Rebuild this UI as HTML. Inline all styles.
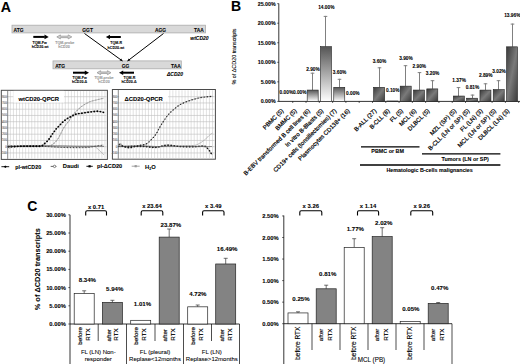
<!DOCTYPE html>
<html><head><meta charset="utf-8"><style>
html,body{margin:0;padding:0;background:#fff;}
svg{display:block;font-family:"Liberation Sans", sans-serif;}
</style></head><body>
<svg width="520" height="364" viewBox="0 0 520 364">
<rect width="520" height="364" fill="#fff"/>
<text x="0.80" y="12.20" font-size="14.2" font-weight="bold" text-anchor="start" fill="#000" stroke="#000" stroke-width="0.08" >A</text>
<rect x="12.00" y="25.20" width="193.40" height="7.70" fill="#d9d9d9" stroke="#ababab" stroke-width="0.8" />
<text x="13.60" y="31.90" font-size="4.9" font-weight="bold" text-anchor="start" fill="#000" stroke="#000" stroke-width="0.08" >ATG</text>
<text x="82.30" y="31.90" font-size="4.9" font-weight="bold" text-anchor="start" fill="#000" stroke="#000" stroke-width="0.08" >GGT</text>
<text x="155.00" y="31.90" font-size="4.9" font-weight="bold" text-anchor="start" fill="#000" stroke="#000" stroke-width="0.08" >AGG</text>
<text x="203.80" y="31.90" font-size="4.9" font-weight="bold" text-anchor="end" fill="#000" stroke="#000" stroke-width="0.08" >TAA</text>
<text x="190.30" y="39.50" font-size="5" font-weight="bold" text-anchor="start" fill="#000" stroke="#000" stroke-width="0.08" font-style="italic">wtCD20</text>
<rect x="53.00" y="60.90" width="128.30" height="7.90" fill="#d9d9d9" stroke="#ababab" stroke-width="0.8" />
<text x="55.20" y="67.60" font-size="4.9" font-weight="bold" text-anchor="start" fill="#000" stroke="#000" stroke-width="0.08" >ATG</text>
<text x="121.80" y="67.60" font-size="4.9" font-weight="bold" text-anchor="start" fill="#000" stroke="#000" stroke-width="0.08" >GG</text>
<text x="180.80" y="67.60" font-size="4.9" font-weight="bold" text-anchor="end" fill="#000" stroke="#000" stroke-width="0.08" >TAA</text>
<text x="167.00" y="75.80" font-size="5" font-weight="bold" text-anchor="start" fill="#000" stroke="#000" stroke-width="0.08" font-style="italic">&#916;CD20</text>
<rect x="33.30" y="35.90" width="11.50" height="2" fill="#000"/>
<polygon points="44.50,34.60 48.70,36.90 44.50,39.20" fill="#000"/>
<polygon points="56.8,36.9 60.4,34.9 60.4,36.15 68.2,36.15 68.2,34.9 71.8,36.9 68.2,38.9 68.2,37.65 60.4,37.65 60.4,38.9" fill="#d0d0d0" stroke="#9a9a9a" stroke-width="0.8" stroke-linejoin="round"/>
<rect x="109.70" y="36.00" width="11.10" height="2" fill="#000"/>
<polygon points="110.00,34.70 105.80,37.00 110.00,39.30" fill="#000"/>
<rect x="73.00" y="71.70" width="12.10" height="2" fill="#000"/>
<polygon points="84.80,70.40 89.00,72.70 84.80,75.00" fill="#000"/>
<polygon points="97,72.7 100.6,70.7 100.6,71.95 107.4,71.95 107.4,70.7 111,72.7 107.4,74.7 107.4,73.45 100.6,73.45 100.6,74.7" fill="#d0d0d0" stroke="#9a9a9a" stroke-width="0.8" stroke-linejoin="round"/>
<rect x="122.90" y="71.70" width="11.10" height="2" fill="#000"/>
<polygon points="123.20,70.40 119.00,72.70 123.20,75.00" fill="#000"/>
<text x="39.60" y="44.00" font-size="3.6" font-weight="bold" text-anchor="middle" fill="#000" stroke="#000" stroke-width="0.08" >TQM-Fw</text>
<text x="40.10" y="48.30" font-size="3.6" font-weight="bold" text-anchor="middle" fill="#000" stroke="#000" stroke-width="0.08" >hCD20-wt</text>
<text x="64.80" y="44.00" font-size="3.6" font-weight="bold" text-anchor="middle" fill="#999" stroke="#999" stroke-width="0.08" >TQM-probe</text>
<text x="64.00" y="48.30" font-size="3.6" font-weight="bold" text-anchor="middle" fill="#999" stroke="#999" stroke-width="0.08" >hCD20</text>
<text x="116.10" y="44.30" font-size="3.6" font-weight="bold" text-anchor="middle" fill="#000" stroke="#000" stroke-width="0.08" >TQM-R</text>
<text x="115.90" y="48.60" font-size="3.6" font-weight="bold" text-anchor="middle" fill="#000" stroke="#000" stroke-width="0.08" >hCD20-wt</text>
<text x="79.60" y="79.00" font-size="3.6" font-weight="bold" text-anchor="middle" fill="#000" stroke="#000" stroke-width="0.08" >TQM-Fw</text>
<text x="79.60" y="83.20" font-size="3.6" font-weight="bold" text-anchor="middle" fill="#000" stroke="#000" stroke-width="0.08" >hCD20-&#916;</text>
<text x="104.00" y="79.00" font-size="3.6" font-weight="bold" text-anchor="middle" fill="#999" stroke="#999" stroke-width="0.08" >TQM-probe</text>
<text x="104.00" y="83.20" font-size="3.6" font-weight="bold" text-anchor="middle" fill="#999" stroke="#999" stroke-width="0.08" >hCD20</text>
<text x="129.40" y="79.00" font-size="3.6" font-weight="bold" text-anchor="middle" fill="#000" stroke="#000" stroke-width="0.08" >TQM-R</text>
<text x="129.00" y="83.20" font-size="3.6" font-weight="bold" text-anchor="middle" fill="#000" stroke="#000" stroke-width="0.08" >hCD20-&#916;</text>
<line x1="84.50" y1="33.50" x2="122.50" y2="61.00" stroke="#000" stroke-width="1.0" />
<polygon points="122.50,61.00 119.63,60.53 121.16,58.42" fill="#000"/>
<line x1="163.50" y1="33.50" x2="127.50" y2="61.00" stroke="#000" stroke-width="1.0" />
<polygon points="127.50,61.00 128.78,58.39 130.36,60.45" fill="#000"/>
<rect x="1.30" y="90.30" width="106.10" height="69.10" fill="#fff" stroke="#4a4a4a" stroke-width="1.0" />
<line x1="10.40" y1="91.10" x2="10.40" y2="158.60" stroke="#cdcdcd" stroke-width="0.6" />
<line x1="13.45" y1="91.10" x2="13.45" y2="158.60" stroke="#cdcdcd" stroke-width="0.6" />
<line x1="16.50" y1="91.10" x2="16.50" y2="158.60" stroke="#cdcdcd" stroke-width="0.6" />
<line x1="19.55" y1="91.10" x2="19.55" y2="158.60" stroke="#cdcdcd" stroke-width="0.6" />
<line x1="22.60" y1="91.10" x2="22.60" y2="158.60" stroke="#cdcdcd" stroke-width="0.6" />
<line x1="25.65" y1="91.10" x2="25.65" y2="158.60" stroke="#cdcdcd" stroke-width="0.6" />
<line x1="28.70" y1="91.10" x2="28.70" y2="158.60" stroke="#cdcdcd" stroke-width="0.6" />
<line x1="31.75" y1="91.10" x2="31.75" y2="158.60" stroke="#cdcdcd" stroke-width="0.6" />
<line x1="34.80" y1="91.10" x2="34.80" y2="158.60" stroke="#cdcdcd" stroke-width="0.6" />
<line x1="37.85" y1="91.10" x2="37.85" y2="158.60" stroke="#cdcdcd" stroke-width="0.6" />
<line x1="40.90" y1="91.10" x2="40.90" y2="158.60" stroke="#cdcdcd" stroke-width="0.6" />
<line x1="43.95" y1="91.10" x2="43.95" y2="158.60" stroke="#cdcdcd" stroke-width="0.6" />
<line x1="47.00" y1="91.10" x2="47.00" y2="158.60" stroke="#cdcdcd" stroke-width="0.6" />
<line x1="50.05" y1="91.10" x2="50.05" y2="158.60" stroke="#cdcdcd" stroke-width="0.6" />
<line x1="53.10" y1="91.10" x2="53.10" y2="158.60" stroke="#cdcdcd" stroke-width="0.6" />
<line x1="56.15" y1="91.10" x2="56.15" y2="158.60" stroke="#cdcdcd" stroke-width="0.6" />
<line x1="59.20" y1="91.10" x2="59.20" y2="158.60" stroke="#cdcdcd" stroke-width="0.6" />
<line x1="62.25" y1="91.10" x2="62.25" y2="158.60" stroke="#cdcdcd" stroke-width="0.6" />
<line x1="65.30" y1="91.10" x2="65.30" y2="158.60" stroke="#cdcdcd" stroke-width="0.6" />
<line x1="68.35" y1="91.10" x2="68.35" y2="158.60" stroke="#cdcdcd" stroke-width="0.6" />
<line x1="71.40" y1="91.10" x2="71.40" y2="158.60" stroke="#cdcdcd" stroke-width="0.6" />
<line x1="74.45" y1="91.10" x2="74.45" y2="158.60" stroke="#cdcdcd" stroke-width="0.6" />
<line x1="77.50" y1="91.10" x2="77.50" y2="158.60" stroke="#cdcdcd" stroke-width="0.6" />
<line x1="80.55" y1="91.10" x2="80.55" y2="158.60" stroke="#cdcdcd" stroke-width="0.6" />
<line x1="83.60" y1="91.10" x2="83.60" y2="158.60" stroke="#cdcdcd" stroke-width="0.6" />
<line x1="86.65" y1="91.10" x2="86.65" y2="158.60" stroke="#cdcdcd" stroke-width="0.6" />
<line x1="89.70" y1="91.10" x2="89.70" y2="158.60" stroke="#cdcdcd" stroke-width="0.6" />
<line x1="92.75" y1="91.10" x2="92.75" y2="158.60" stroke="#cdcdcd" stroke-width="0.6" />
<line x1="95.80" y1="91.10" x2="95.80" y2="158.60" stroke="#cdcdcd" stroke-width="0.6" />
<line x1="98.85" y1="91.10" x2="98.85" y2="158.60" stroke="#cdcdcd" stroke-width="0.6" />
<line x1="101.90" y1="91.10" x2="101.90" y2="158.60" stroke="#cdcdcd" stroke-width="0.6" />
<line x1="104.95" y1="91.10" x2="104.95" y2="158.60" stroke="#cdcdcd" stroke-width="0.6" />
<line x1="6.20" y1="96.70" x2="106.60" y2="96.70" stroke="#bdbdbd" stroke-width="0.6" />
<line x1="6.20" y1="102.95" x2="106.60" y2="102.95" stroke="#bdbdbd" stroke-width="0.6" />
<line x1="6.20" y1="109.20" x2="106.60" y2="109.20" stroke="#bdbdbd" stroke-width="0.6" />
<line x1="6.20" y1="115.45" x2="106.60" y2="115.45" stroke="#bdbdbd" stroke-width="0.6" />
<line x1="6.20" y1="121.70" x2="106.60" y2="121.70" stroke="#bdbdbd" stroke-width="0.6" />
<line x1="6.20" y1="127.95" x2="106.60" y2="127.95" stroke="#bdbdbd" stroke-width="0.6" />
<line x1="6.20" y1="134.20" x2="106.60" y2="134.20" stroke="#bdbdbd" stroke-width="0.6" />
<line x1="6.20" y1="140.45" x2="106.60" y2="140.45" stroke="#bdbdbd" stroke-width="0.6" />
<line x1="6.20" y1="146.70" x2="106.60" y2="146.70" stroke="#bdbdbd" stroke-width="0.6" />
<line x1="6.20" y1="152.95" x2="106.60" y2="152.95" stroke="#bdbdbd" stroke-width="0.6" />
<line x1="7.70" y1="90.80" x2="7.70" y2="158.90" stroke="#555" stroke-width="0.7" />
<text x="6.70" y="97.70" font-size="2.8" font-weight="normal" text-anchor="end" fill="#666" stroke="#666" stroke-width="0.08" >800</text>
<text x="6.70" y="103.95" font-size="2.8" font-weight="normal" text-anchor="end" fill="#666" stroke="#666" stroke-width="0.08" >700</text>
<text x="6.70" y="110.20" font-size="2.8" font-weight="normal" text-anchor="end" fill="#666" stroke="#666" stroke-width="0.08" >600</text>
<text x="6.70" y="116.45" font-size="2.8" font-weight="normal" text-anchor="end" fill="#666" stroke="#666" stroke-width="0.08" >500</text>
<text x="6.70" y="122.70" font-size="2.8" font-weight="normal" text-anchor="end" fill="#666" stroke="#666" stroke-width="0.08" >400</text>
<text x="6.70" y="128.95" font-size="2.8" font-weight="normal" text-anchor="end" fill="#666" stroke="#666" stroke-width="0.08" >300</text>
<text x="6.70" y="135.20" font-size="2.8" font-weight="normal" text-anchor="end" fill="#666" stroke="#666" stroke-width="0.08" >200</text>
<text x="6.70" y="141.45" font-size="2.8" font-weight="normal" text-anchor="end" fill="#666" stroke="#666" stroke-width="0.08" >100</text>
<text x="6.70" y="147.70" font-size="2.8" font-weight="normal" text-anchor="end" fill="#666" stroke="#666" stroke-width="0.08" >0</text>
<text x="6.70" y="153.95" font-size="2.8" font-weight="normal" text-anchor="end" fill="#666" stroke="#666" stroke-width="0.08" >-100</text>
<rect x="13.40" y="90.90" width="50.60" height="11.60" fill="#fff" stroke="none" stroke-width="1" />
<text x="18.50" y="100.60" font-size="5.9" font-weight="bold" text-anchor="start" fill="#000" stroke="#000" stroke-width="0.08" >wtCD20-QPCR</text>
<path d="M8.50,146.40 L10.10,146.36 L12.16,146.30 L14.61,146.24 L17.38,146.16 L20.37,146.09 L23.52,146.04 L26.76,146.00 L30.00,146.00 L33.38,146.03 L37.02,146.10 L40.85,146.19 L44.78,146.29 L48.74,146.40 L52.65,146.49 L56.43,146.56 L60.00,146.60 L63.48,146.60 L66.99,146.58 L70.46,146.54 L73.84,146.49 L77.05,146.43 L80.02,146.38 L82.69,146.33 L85.00,146.30 L86.88,146.26 L88.38,146.19 L89.57,146.12 L90.53,146.05 L91.33,146.02 L92.06,146.03 L92.79,146.12 L93.60,146.30 L94.43,146.58 L95.18,146.93 L95.88,147.36 L96.52,147.84 L97.14,148.35 L97.75,148.90 L98.37,149.45 L99.00,150.00 L99.68,150.60 L100.40,151.28 L101.12,152.00 L101.84,152.73 L102.51,153.43 L103.11,154.07 L103.62,154.61 L104.00,155.00" fill="none" stroke="#a0a0a0" stroke-width="0.7" stroke-linejoin="round"/>
<path d="M8.50,146.50 L10.18,146.48 L12.45,146.44 L15.14,146.41 L18.12,146.36 L21.25,146.32 L24.37,146.27 L27.33,146.23 L30.00,146.20 L32.52,146.18 L35.08,146.16 L37.64,146.15 L40.12,146.14 L42.46,146.12 L44.59,146.10 L46.46,146.06 L48.00,146.00 L49.13,145.94 L49.88,145.90 L50.35,145.86 L50.62,145.81 L50.79,145.72 L50.95,145.58 L51.19,145.38 L51.60,145.10 L52.16,144.73 L52.78,144.28 L53.42,143.76 L54.08,143.20 L54.74,142.61 L55.37,142.00 L55.96,141.39 L56.50,140.80 L56.97,140.23 L57.40,139.65 L57.79,139.06 L58.16,138.47 L58.52,137.86 L58.87,137.23 L59.22,136.58 L59.60,135.90 L59.99,135.18 L60.38,134.41 L60.76,133.61 L61.15,132.80 L61.54,131.99 L61.93,131.19 L62.31,130.42 L62.70,129.70 L63.09,129.02 L63.48,128.36 L63.86,127.72 L64.25,127.10 L64.64,126.50 L65.03,125.92 L65.41,125.35 L65.80,124.80 L66.18,124.28 L66.56,123.81 L66.94,123.37 L67.31,122.94 L67.69,122.50 L68.08,122.04 L68.48,121.55 L68.90,121.00 L69.33,120.39 L69.76,119.74 L70.20,119.05 L70.66,118.34 L71.12,117.62 L71.60,116.89 L72.09,116.18 L72.60,115.50 L73.13,114.83 L73.69,114.15 L74.26,113.48 L74.84,112.81 L75.44,112.15 L76.03,111.51 L76.62,110.89 L77.20,110.30 L77.78,109.74 L78.35,109.19 L78.92,108.66 L79.50,108.16 L80.08,107.67 L80.65,107.19 L81.23,106.74 L81.80,106.30 L82.37,105.88 L82.95,105.48 L83.52,105.10 L84.09,104.73 L84.67,104.38 L85.24,104.04 L85.82,103.72 L86.40,103.40 L86.98,103.09 L87.57,102.80 L88.16,102.51 L88.75,102.24 L89.34,101.99 L89.93,101.74 L90.52,101.51 L91.10,101.30 L91.68,101.11 L92.26,100.93 L92.83,100.78 L93.41,100.64 L93.98,100.50 L94.55,100.37 L95.13,100.24 L95.70,100.10 L96.28,99.96 L96.88,99.81 L97.48,99.67 L98.07,99.52 L98.66,99.39 L99.23,99.25 L99.78,99.12 L100.30,99.00 L100.81,98.88 L101.31,98.76 L101.81,98.64 L102.29,98.53 L102.73,98.43 L103.12,98.34 L103.45,98.26 L103.70,98.20" fill="none" stroke="#8a8a8a" stroke-width="0.6" stroke-linejoin="round"/>
<path d="M8.50,146.50 L10.18,146.48 L12.45,146.44 L15.14,146.41 L18.12,146.36 L21.25,146.32 L24.37,146.27 L27.33,146.23 L30.00,146.20 L32.52,146.18 L35.08,146.16 L37.64,146.15 L40.12,146.14 L42.46,146.12 L44.59,146.10 L46.46,146.06 L48.00,146.00 L49.13,145.94 L49.88,145.90 L50.35,145.86 L50.62,145.81 L50.79,145.72 L50.95,145.58 L51.19,145.38 L51.60,145.10 L52.16,144.73 L52.78,144.28 L53.42,143.76 L54.08,143.20 L54.74,142.61 L55.37,142.00 L55.96,141.39 L56.50,140.80 L56.97,140.23 L57.40,139.65 L57.79,139.06 L58.16,138.47 L58.52,137.86 L58.87,137.23 L59.22,136.58 L59.60,135.90 L59.99,135.18 L60.38,134.41 L60.76,133.61 L61.15,132.80 L61.54,131.99 L61.93,131.19 L62.31,130.42 L62.70,129.70 L63.09,129.02 L63.48,128.36 L63.86,127.72 L64.25,127.10 L64.64,126.50 L65.03,125.92 L65.41,125.35 L65.80,124.80 L66.18,124.28 L66.56,123.81 L66.94,123.37 L67.31,122.94 L67.69,122.50 L68.08,122.04 L68.48,121.55 L68.90,121.00 L69.33,120.39 L69.76,119.74 L70.20,119.05 L70.66,118.34 L71.12,117.62 L71.60,116.89 L72.09,116.18 L72.60,115.50 L73.13,114.83 L73.69,114.15 L74.26,113.48 L74.84,112.81 L75.44,112.15 L76.03,111.51 L76.62,110.89 L77.20,110.30 L77.78,109.74 L78.35,109.19 L78.92,108.66 L79.50,108.16 L80.08,107.67 L80.65,107.19 L81.23,106.74 L81.80,106.30 L82.37,105.88 L82.95,105.48 L83.52,105.10 L84.09,104.73 L84.67,104.38 L85.24,104.04 L85.82,103.72 L86.40,103.40 L86.98,103.09 L87.57,102.80 L88.16,102.51 L88.75,102.24 L89.34,101.99 L89.93,101.74 L90.52,101.51 L91.10,101.30 L91.68,101.11 L92.26,100.93 L92.83,100.78 L93.41,100.64 L93.98,100.50 L94.55,100.37 L95.13,100.24 L95.70,100.10 L96.28,99.96 L96.88,99.81 L97.48,99.67 L98.07,99.52 L98.66,99.39 L99.23,99.25 L99.78,99.12 L100.30,99.00 L100.81,98.88 L101.31,98.76 L101.81,98.64 L102.29,98.53 L102.73,98.43 L103.12,98.34 L103.45,98.26 L103.70,98.20" fill="none" stroke="#8a8a8a" stroke-width="1.2" stroke-linecap="round" stroke-dasharray="0,3.1" opacity="0.8"/>
<path d="M8.50,147.20 L9.33,147.13 L10.37,147.04 L11.60,146.93 L13.00,146.81 L14.56,146.69 L16.26,146.58 L18.08,146.48 L20.00,146.40 L22.09,146.34 L24.40,146.28 L26.88,146.22 L29.47,146.18 L32.13,146.15 L34.80,146.14 L37.44,146.16 L40.00,146.20 L42.53,146.28 L45.12,146.40 L47.72,146.55 L50.31,146.72 L52.87,146.89 L55.35,147.05 L57.74,147.19 L60.00,147.30 L62.13,147.38 L64.15,147.44 L66.08,147.49 L67.94,147.53 L69.74,147.56 L71.51,147.58 L73.25,147.59 L75.00,147.60 L76.75,147.61 L78.51,147.61 L80.24,147.61 L81.94,147.61 L83.58,147.58 L85.15,147.55 L86.63,147.49 L88.00,147.40 L89.24,147.28 L90.36,147.12 L91.39,146.95 L92.34,146.75 L93.26,146.55 L94.15,146.35 L95.06,146.16 L96.00,146.00 L97.01,145.85 L98.09,145.70 L99.18,145.55 L100.25,145.41 L101.26,145.28 L102.16,145.17 L102.92,145.07 L103.50,145.00" fill="none" stroke="#444" stroke-width="0.5" stroke-linejoin="round" opacity="0.7"/>
<path d="M8.50,147.20 L9.33,147.13 L10.37,147.04 L11.60,146.93 L13.00,146.81 L14.56,146.69 L16.26,146.58 L18.08,146.48 L20.00,146.40 L22.09,146.34 L24.40,146.28 L26.88,146.22 L29.47,146.18 L32.13,146.15 L34.80,146.14 L37.44,146.16 L40.00,146.20 L42.53,146.28 L45.12,146.40 L47.72,146.55 L50.31,146.72 L52.87,146.89 L55.35,147.05 L57.74,147.19 L60.00,147.30 L62.13,147.38 L64.15,147.44 L66.08,147.49 L67.94,147.53 L69.74,147.56 L71.51,147.58 L73.25,147.59 L75.00,147.60 L76.75,147.61 L78.51,147.61 L80.24,147.61 L81.94,147.61 L83.58,147.58 L85.15,147.55 L86.63,147.49 L88.00,147.40 L89.24,147.28 L90.36,147.12 L91.39,146.95 L92.34,146.75 L93.26,146.55 L94.15,146.35 L95.06,146.16 L96.00,146.00 L97.01,145.85 L98.09,145.70 L99.18,145.55 L100.25,145.41 L101.26,145.28 L102.16,145.17 L102.92,145.07 L103.50,145.00" fill="none" stroke="#444" stroke-width="1.3" stroke-linecap="round" stroke-dasharray="0,3.1"/>
<path d="M8.50,146.20 L11.01,146.18 L14.43,146.14 L18.51,146.10 L23.00,146.06 L27.65,146.01 L32.20,145.97 L36.40,145.93 L40.00,145.90 L43.05,145.87 L45.81,145.85 L48.34,145.83 L50.72,145.81 L53.01,145.79 L55.27,145.79 L57.58,145.79 L60.00,145.80 L62.47,145.83 L64.91,145.87 L67.32,145.92 L69.75,145.98 L72.21,146.04 L74.72,146.10 L77.31,146.16 L80.00,146.20 L82.97,146.24 L86.28,146.27 L89.76,146.30 L93.25,146.32 L96.58,146.35 L99.59,146.37 L102.12,146.39 L104.00,146.40" fill="none" stroke="#555" stroke-width="0.7" stroke-linejoin="round"/>
<path d="M8.50,146.60 L9.78,146.57 L11.50,146.52 L13.54,146.46 L15.81,146.40 L18.20,146.34 L20.59,146.28 L22.90,146.23 L25.00,146.20 L27.02,146.19 L29.12,146.22 L31.24,146.25 L33.31,146.29 L35.28,146.32 L37.09,146.32 L38.68,146.29 L40.00,146.20 L41.00,146.06 L41.72,145.87 L42.21,145.65 L42.55,145.41 L42.79,145.14 L43.01,144.86 L43.26,144.58 L43.60,144.30 L44.01,144.02 L44.40,143.72 L44.79,143.42 L45.17,143.11 L45.54,142.79 L45.90,142.46 L46.25,142.13 L46.60,141.80 L46.94,141.47 L47.26,141.14 L47.57,140.82 L47.88,140.48 L48.18,140.14 L48.49,139.78 L48.79,139.40 L49.10,139.00 L49.41,138.57 L49.73,138.11 L50.04,137.63 L50.36,137.13 L50.67,136.63 L50.98,136.14 L51.29,135.66 L51.60,135.20 L51.90,134.76 L52.20,134.34 L52.50,133.93 L52.80,133.53 L53.10,133.12 L53.40,132.72 L53.70,132.31 L54.00,131.90 L54.31,131.47 L54.62,131.04 L54.93,130.59 L55.24,130.15 L55.56,129.71 L55.87,129.29 L56.19,128.88 L56.50,128.50 L56.81,128.15 L57.12,127.82 L57.44,127.51 L57.75,127.21 L58.06,126.91 L58.38,126.62 L58.69,126.32 L59.00,126.00 L59.31,125.67 L59.63,125.33 L59.94,124.98 L60.26,124.64 L60.57,124.29 L60.88,123.95 L61.19,123.62 L61.50,123.30 L61.80,122.99 L62.10,122.69 L62.40,122.39 L62.70,122.09 L63.00,121.81 L63.30,121.53 L63.60,121.26 L63.90,121.00 L64.21,120.75 L64.52,120.51 L64.83,120.28 L65.14,120.06 L65.46,119.84 L65.77,119.62 L66.09,119.41 L66.40,119.20 L66.71,118.99 L67.03,118.78 L67.34,118.57 L67.66,118.36 L67.97,118.16 L68.28,117.97 L68.59,117.78 L68.90,117.60 L69.19,117.44 L69.45,117.30 L69.70,117.17 L69.96,117.04 L70.23,116.91 L70.53,116.77 L70.89,116.60 L71.30,116.40 L71.79,116.15 L72.34,115.86 L72.93,115.55 L73.56,115.22 L74.21,114.89 L74.86,114.59 L75.49,114.32 L76.10,114.10 L76.68,113.94 L77.26,113.81 L77.84,113.72 L78.41,113.66 L78.98,113.60 L79.55,113.54 L80.13,113.48 L80.70,113.40 L81.28,113.30 L81.85,113.20 L82.42,113.10 L83.00,112.99 L83.58,112.89 L84.15,112.79 L84.73,112.69 L85.30,112.60 L85.88,112.52 L86.45,112.44 L87.02,112.36 L87.60,112.29 L88.17,112.22 L88.75,112.15 L89.32,112.07 L89.90,112.00 L90.48,111.92 L91.05,111.84 L91.62,111.75 L92.20,111.66 L92.78,111.58 L93.35,111.51 L93.93,111.45 L94.50,111.40 L95.08,111.36 L95.65,111.33 L96.22,111.31 L96.80,111.30 L97.38,111.30 L97.95,111.32 L98.53,111.35 L99.10,111.40 L99.71,111.48 L100.36,111.60 L101.03,111.75 L101.69,111.90 L102.31,112.05 L102.87,112.20 L103.35,112.32 L103.70,112.40" fill="none" stroke="#000" stroke-width="0.5" stroke-linejoin="round" opacity="0.7"/>
<path d="M8.50,146.60 L9.78,146.57 L11.50,146.52 L13.54,146.46 L15.81,146.40 L18.20,146.34 L20.59,146.28 L22.90,146.23 L25.00,146.20 L27.02,146.19 L29.12,146.22 L31.24,146.25 L33.31,146.29 L35.28,146.32 L37.09,146.32 L38.68,146.29 L40.00,146.20 L41.00,146.06 L41.72,145.87 L42.21,145.65 L42.55,145.41 L42.79,145.14 L43.01,144.86 L43.26,144.58 L43.60,144.30 L44.01,144.02 L44.40,143.72 L44.79,143.42 L45.17,143.11 L45.54,142.79 L45.90,142.46 L46.25,142.13 L46.60,141.80 L46.94,141.47 L47.26,141.14 L47.57,140.82 L47.88,140.48 L48.18,140.14 L48.49,139.78 L48.79,139.40 L49.10,139.00 L49.41,138.57 L49.73,138.11 L50.04,137.63 L50.36,137.13 L50.67,136.63 L50.98,136.14 L51.29,135.66 L51.60,135.20 L51.90,134.76 L52.20,134.34 L52.50,133.93 L52.80,133.53 L53.10,133.12 L53.40,132.72 L53.70,132.31 L54.00,131.90 L54.31,131.47 L54.62,131.04 L54.93,130.59 L55.24,130.15 L55.56,129.71 L55.87,129.29 L56.19,128.88 L56.50,128.50 L56.81,128.15 L57.12,127.82 L57.44,127.51 L57.75,127.21 L58.06,126.91 L58.38,126.62 L58.69,126.32 L59.00,126.00 L59.31,125.67 L59.63,125.33 L59.94,124.98 L60.26,124.64 L60.57,124.29 L60.88,123.95 L61.19,123.62 L61.50,123.30 L61.80,122.99 L62.10,122.69 L62.40,122.39 L62.70,122.09 L63.00,121.81 L63.30,121.53 L63.60,121.26 L63.90,121.00 L64.21,120.75 L64.52,120.51 L64.83,120.28 L65.14,120.06 L65.46,119.84 L65.77,119.62 L66.09,119.41 L66.40,119.20 L66.71,118.99 L67.03,118.78 L67.34,118.57 L67.66,118.36 L67.97,118.16 L68.28,117.97 L68.59,117.78 L68.90,117.60 L69.19,117.44 L69.45,117.30 L69.70,117.17 L69.96,117.04 L70.23,116.91 L70.53,116.77 L70.89,116.60 L71.30,116.40 L71.79,116.15 L72.34,115.86 L72.93,115.55 L73.56,115.22 L74.21,114.89 L74.86,114.59 L75.49,114.32 L76.10,114.10 L76.68,113.94 L77.26,113.81 L77.84,113.72 L78.41,113.66 L78.98,113.60 L79.55,113.54 L80.13,113.48 L80.70,113.40 L81.28,113.30 L81.85,113.20 L82.42,113.10 L83.00,112.99 L83.58,112.89 L84.15,112.79 L84.73,112.69 L85.30,112.60 L85.88,112.52 L86.45,112.44 L87.02,112.36 L87.60,112.29 L88.17,112.22 L88.75,112.15 L89.32,112.07 L89.90,112.00 L90.48,111.92 L91.05,111.84 L91.62,111.75 L92.20,111.66 L92.78,111.58 L93.35,111.51 L93.93,111.45 L94.50,111.40 L95.08,111.36 L95.65,111.33 L96.22,111.31 L96.80,111.30 L97.38,111.30 L97.95,111.32 L98.53,111.35 L99.10,111.40 L99.71,111.48 L100.36,111.60 L101.03,111.75 L101.69,111.90 L102.31,112.05 L102.87,112.20 L103.35,112.32 L103.70,112.40" fill="none" stroke="#000" stroke-width="1.9" stroke-linecap="round" stroke-dasharray="0,3.1"/>
<rect x="112.40" y="89.50" width="103.00" height="69.70" fill="#fff" stroke="#4a4a4a" stroke-width="1.0" />
<line x1="121.00" y1="90.30" x2="121.00" y2="158.40" stroke="#cdcdcd" stroke-width="0.6" />
<line x1="124.05" y1="90.30" x2="124.05" y2="158.40" stroke="#cdcdcd" stroke-width="0.6" />
<line x1="127.10" y1="90.30" x2="127.10" y2="158.40" stroke="#cdcdcd" stroke-width="0.6" />
<line x1="130.15" y1="90.30" x2="130.15" y2="158.40" stroke="#cdcdcd" stroke-width="0.6" />
<line x1="133.20" y1="90.30" x2="133.20" y2="158.40" stroke="#cdcdcd" stroke-width="0.6" />
<line x1="136.25" y1="90.30" x2="136.25" y2="158.40" stroke="#cdcdcd" stroke-width="0.6" />
<line x1="139.30" y1="90.30" x2="139.30" y2="158.40" stroke="#cdcdcd" stroke-width="0.6" />
<line x1="142.35" y1="90.30" x2="142.35" y2="158.40" stroke="#cdcdcd" stroke-width="0.6" />
<line x1="145.40" y1="90.30" x2="145.40" y2="158.40" stroke="#cdcdcd" stroke-width="0.6" />
<line x1="148.45" y1="90.30" x2="148.45" y2="158.40" stroke="#cdcdcd" stroke-width="0.6" />
<line x1="151.50" y1="90.30" x2="151.50" y2="158.40" stroke="#cdcdcd" stroke-width="0.6" />
<line x1="154.55" y1="90.30" x2="154.55" y2="158.40" stroke="#cdcdcd" stroke-width="0.6" />
<line x1="157.60" y1="90.30" x2="157.60" y2="158.40" stroke="#cdcdcd" stroke-width="0.6" />
<line x1="160.65" y1="90.30" x2="160.65" y2="158.40" stroke="#cdcdcd" stroke-width="0.6" />
<line x1="163.70" y1="90.30" x2="163.70" y2="158.40" stroke="#cdcdcd" stroke-width="0.6" />
<line x1="166.75" y1="90.30" x2="166.75" y2="158.40" stroke="#cdcdcd" stroke-width="0.6" />
<line x1="169.80" y1="90.30" x2="169.80" y2="158.40" stroke="#cdcdcd" stroke-width="0.6" />
<line x1="172.85" y1="90.30" x2="172.85" y2="158.40" stroke="#cdcdcd" stroke-width="0.6" />
<line x1="175.90" y1="90.30" x2="175.90" y2="158.40" stroke="#cdcdcd" stroke-width="0.6" />
<line x1="178.95" y1="90.30" x2="178.95" y2="158.40" stroke="#cdcdcd" stroke-width="0.6" />
<line x1="182.00" y1="90.30" x2="182.00" y2="158.40" stroke="#cdcdcd" stroke-width="0.6" />
<line x1="185.05" y1="90.30" x2="185.05" y2="158.40" stroke="#cdcdcd" stroke-width="0.6" />
<line x1="188.10" y1="90.30" x2="188.10" y2="158.40" stroke="#cdcdcd" stroke-width="0.6" />
<line x1="191.15" y1="90.30" x2="191.15" y2="158.40" stroke="#cdcdcd" stroke-width="0.6" />
<line x1="194.20" y1="90.30" x2="194.20" y2="158.40" stroke="#cdcdcd" stroke-width="0.6" />
<line x1="197.25" y1="90.30" x2="197.25" y2="158.40" stroke="#cdcdcd" stroke-width="0.6" />
<line x1="200.30" y1="90.30" x2="200.30" y2="158.40" stroke="#cdcdcd" stroke-width="0.6" />
<line x1="203.35" y1="90.30" x2="203.35" y2="158.40" stroke="#cdcdcd" stroke-width="0.6" />
<line x1="206.40" y1="90.30" x2="206.40" y2="158.40" stroke="#cdcdcd" stroke-width="0.6" />
<line x1="209.45" y1="90.30" x2="209.45" y2="158.40" stroke="#cdcdcd" stroke-width="0.6" />
<line x1="212.50" y1="90.30" x2="212.50" y2="158.40" stroke="#cdcdcd" stroke-width="0.6" />
<line x1="116.80" y1="96.70" x2="214.60" y2="96.70" stroke="#bdbdbd" stroke-width="0.6" />
<line x1="116.80" y1="102.95" x2="214.60" y2="102.95" stroke="#bdbdbd" stroke-width="0.6" />
<line x1="116.80" y1="109.20" x2="214.60" y2="109.20" stroke="#bdbdbd" stroke-width="0.6" />
<line x1="116.80" y1="115.45" x2="214.60" y2="115.45" stroke="#bdbdbd" stroke-width="0.6" />
<line x1="116.80" y1="121.70" x2="214.60" y2="121.70" stroke="#bdbdbd" stroke-width="0.6" />
<line x1="116.80" y1="127.95" x2="214.60" y2="127.95" stroke="#bdbdbd" stroke-width="0.6" />
<line x1="116.80" y1="134.20" x2="214.60" y2="134.20" stroke="#bdbdbd" stroke-width="0.6" />
<line x1="116.80" y1="140.45" x2="214.60" y2="140.45" stroke="#bdbdbd" stroke-width="0.6" />
<line x1="116.80" y1="146.70" x2="214.60" y2="146.70" stroke="#bdbdbd" stroke-width="0.6" />
<line x1="116.80" y1="152.95" x2="214.60" y2="152.95" stroke="#bdbdbd" stroke-width="0.6" />
<line x1="118.30" y1="90.00" x2="118.30" y2="158.70" stroke="#555" stroke-width="0.7" />
<text x="117.30" y="97.70" font-size="2.8" font-weight="normal" text-anchor="end" fill="#666" stroke="#666" stroke-width="0.08" >800</text>
<text x="117.30" y="103.95" font-size="2.8" font-weight="normal" text-anchor="end" fill="#666" stroke="#666" stroke-width="0.08" >700</text>
<text x="117.30" y="110.20" font-size="2.8" font-weight="normal" text-anchor="end" fill="#666" stroke="#666" stroke-width="0.08" >600</text>
<text x="117.30" y="116.45" font-size="2.8" font-weight="normal" text-anchor="end" fill="#666" stroke="#666" stroke-width="0.08" >500</text>
<text x="117.30" y="122.70" font-size="2.8" font-weight="normal" text-anchor="end" fill="#666" stroke="#666" stroke-width="0.08" >400</text>
<text x="117.30" y="128.95" font-size="2.8" font-weight="normal" text-anchor="end" fill="#666" stroke="#666" stroke-width="0.08" >300</text>
<text x="117.30" y="135.20" font-size="2.8" font-weight="normal" text-anchor="end" fill="#666" stroke="#666" stroke-width="0.08" >200</text>
<text x="117.30" y="141.45" font-size="2.8" font-weight="normal" text-anchor="end" fill="#666" stroke="#666" stroke-width="0.08" >100</text>
<text x="117.30" y="147.70" font-size="2.8" font-weight="normal" text-anchor="end" fill="#666" stroke="#666" stroke-width="0.08" >0</text>
<text x="117.30" y="153.95" font-size="2.8" font-weight="normal" text-anchor="end" fill="#666" stroke="#666" stroke-width="0.08" >-100</text>
<rect x="119.20" y="90.10" width="48.80" height="11.50" fill="#fff" stroke="none" stroke-width="1" />
<text x="124.60" y="100.60" font-size="5.9" font-weight="bold" text-anchor="start" fill="#000" stroke="#000" stroke-width="0.08" >&#916;CD20-QPCR</text>
<path d="M119.00,146.30 L121.40,146.33 L124.59,146.37 L128.40,146.42 L132.62,146.47 L137.09,146.53 L141.59,146.57 L145.96,146.59 L150.00,146.60 L153.91,146.59 L157.97,146.56 L162.07,146.51 L166.12,146.46 L170.04,146.40 L173.72,146.34 L177.07,146.27 L180.00,146.20 L182.50,146.13 L184.65,146.05 L186.50,145.97 L188.11,145.89 L189.51,145.80 L190.76,145.70 L191.91,145.60 L193.00,145.50 L193.94,145.41 L194.64,145.34 L195.16,145.27 L195.56,145.20 L195.92,145.10 L196.28,144.96 L196.72,144.77 L197.30,144.50 L198.00,144.16 L198.75,143.78 L199.55,143.34 L200.37,142.86 L201.21,142.34 L202.05,141.78 L202.89,141.20 L203.70,140.60 L204.53,139.93 L205.39,139.16 L206.28,138.35 L207.15,137.51 L207.99,136.69 L208.78,135.92 L209.49,135.25 L210.10,134.70 L210.61,134.28 L211.04,133.96 L211.40,133.71 L211.70,133.53 L211.95,133.39 L212.16,133.29 L212.34,133.19 L212.50,133.10" fill="none" stroke="#a0a0a0" stroke-width="0.7" stroke-linejoin="round"/>
<path d="M119.50,144.50 L119.84,144.66 L120.29,144.88 L120.82,145.14 L121.41,145.42 L122.05,145.72 L122.71,146.01 L123.36,146.27 L124.00,146.50 L124.63,146.70 L125.28,146.91 L125.95,147.11 L126.63,147.30 L127.32,147.46 L128.01,147.59 L128.71,147.67 L129.40,147.70 L130.06,147.66 L130.68,147.54 L131.29,147.38 L131.91,147.18 L132.57,146.97 L133.29,146.78 L134.09,146.61 L135.00,146.50 L136.04,146.43 L137.18,146.37 L138.41,146.33 L139.70,146.31 L141.03,146.31 L142.37,146.32 L143.70,146.35 L145.00,146.40 L146.27,146.49 L147.54,146.65 L148.82,146.84 L150.10,147.03 L151.39,147.21 L152.71,147.35 L154.04,147.42 L155.40,147.40 L156.78,147.25 L158.18,146.99 L159.60,146.66 L161.04,146.28 L162.49,145.91 L163.97,145.58 L165.47,145.33 L167.00,145.20 L168.54,145.20 L170.10,145.31 L171.68,145.48 L173.29,145.71 L174.92,145.95 L176.58,146.18 L178.27,146.37 L180.00,146.50 L181.82,146.57 L183.74,146.62 L185.72,146.65 L187.72,146.66 L189.70,146.65 L191.60,146.64 L193.38,146.62 L195.00,146.60 L196.48,146.55 L197.87,146.45 L199.17,146.32 L200.38,146.20 L201.51,146.10 L202.55,146.05 L203.52,146.08 L204.40,146.20 L205.17,146.42 L205.81,146.72 L206.35,147.08 L206.81,147.49 L207.23,147.95 L207.63,148.45 L208.05,148.97 L208.50,149.50 L209.00,150.10 L209.52,150.81 L210.04,151.57 L210.56,152.36 L211.04,153.11 L211.46,153.80 L211.83,154.38 L212.10,154.80" fill="none" stroke="#111" stroke-width="0.5" stroke-linejoin="round" opacity="0.7"/>
<path d="M119.50,144.50 L119.84,144.66 L120.29,144.88 L120.82,145.14 L121.41,145.42 L122.05,145.72 L122.71,146.01 L123.36,146.27 L124.00,146.50 L124.63,146.70 L125.28,146.91 L125.95,147.11 L126.63,147.30 L127.32,147.46 L128.01,147.59 L128.71,147.67 L129.40,147.70 L130.06,147.66 L130.68,147.54 L131.29,147.38 L131.91,147.18 L132.57,146.97 L133.29,146.78 L134.09,146.61 L135.00,146.50 L136.04,146.43 L137.18,146.37 L138.41,146.33 L139.70,146.31 L141.03,146.31 L142.37,146.32 L143.70,146.35 L145.00,146.40 L146.27,146.49 L147.54,146.65 L148.82,146.84 L150.10,147.03 L151.39,147.21 L152.71,147.35 L154.04,147.42 L155.40,147.40 L156.78,147.25 L158.18,146.99 L159.60,146.66 L161.04,146.28 L162.49,145.91 L163.97,145.58 L165.47,145.33 L167.00,145.20 L168.54,145.20 L170.10,145.31 L171.68,145.48 L173.29,145.71 L174.92,145.95 L176.58,146.18 L178.27,146.37 L180.00,146.50 L181.82,146.57 L183.74,146.62 L185.72,146.65 L187.72,146.66 L189.70,146.65 L191.60,146.64 L193.38,146.62 L195.00,146.60 L196.48,146.55 L197.87,146.45 L199.17,146.32 L200.38,146.20 L201.51,146.10 L202.55,146.05 L203.52,146.08 L204.40,146.20 L205.17,146.42 L205.81,146.72 L206.35,147.08 L206.81,147.49 L207.23,147.95 L207.63,148.45 L208.05,148.97 L208.50,149.50 L209.00,150.10 L209.52,150.81 L210.04,151.57 L210.56,152.36 L211.04,153.11 L211.46,153.80 L211.83,154.38 L212.10,154.80" fill="none" stroke="#111" stroke-width="1.7" stroke-linecap="round" stroke-dasharray="0,3.1"/>
<path d="M119.00,146.40 L120.63,146.34 L122.80,146.26 L125.38,146.16 L128.25,146.05 L131.28,145.95 L134.33,145.87 L137.28,145.81 L140.00,145.80 L142.55,145.84 L145.07,145.93 L147.57,146.05 L150.06,146.19 L152.54,146.33 L155.02,146.46 L157.51,146.55 L160.00,146.60 L162.50,146.59 L165.00,146.55 L167.50,146.47 L170.00,146.37 L172.50,146.28 L175.00,146.19 L177.50,146.13 L180.00,146.10 L182.55,146.11 L185.19,146.15 L187.85,146.20 L190.50,146.27 L193.09,146.34 L195.56,146.41 L197.88,146.46 L200.00,146.50 L201.96,146.52 L203.84,146.53 L205.61,146.53 L207.25,146.53 L208.73,146.52 L210.03,146.51 L211.13,146.50 L212.00,146.50" fill="none" stroke="#666" stroke-width="0.7" stroke-linejoin="round"/>
<path d="M119.00,146.50 L120.31,146.48 L122.13,146.46 L124.31,146.44 L126.69,146.41 L129.10,146.37 L131.40,146.32 L133.42,146.27 L135.00,146.20 L136.14,146.12 L136.99,146.03 L137.62,145.93 L138.10,145.82 L138.51,145.71 L138.91,145.58 L139.38,145.45 L140.00,145.30 L140.74,145.16 L141.54,145.03 L142.37,144.89 L143.22,144.74 L144.06,144.57 L144.89,144.36 L145.67,144.11 L146.40,143.80 L147.07,143.43 L147.69,143.01 L148.28,142.55 L148.85,142.06 L149.40,141.53 L149.96,140.97 L150.52,140.39 L151.10,139.80 L151.70,139.19 L152.31,138.55 L152.93,137.89 L153.54,137.20 L154.15,136.49 L154.75,135.75 L155.34,134.99 L155.90,134.20 L156.44,133.37 L156.96,132.49 L157.46,131.58 L157.95,130.64 L158.44,129.70 L158.92,128.77 L159.41,127.87 L159.90,127.00 L160.40,126.16 L160.90,125.35 L161.40,124.54 L161.90,123.75 L162.40,122.97 L162.90,122.20 L163.40,121.45 L163.90,120.70 L164.40,119.96 L164.90,119.21 L165.40,118.48 L165.91,117.76 L166.41,117.05 L166.91,116.37 L167.40,115.72 L167.90,115.10 L168.39,114.52 L168.86,113.99 L169.33,113.48 L169.80,113.00 L170.28,112.53 L170.76,112.06 L171.27,111.59 L171.80,111.10 L172.36,110.59 L172.94,110.08 L173.53,109.56 L174.14,109.05 L174.76,108.54 L175.38,108.04 L175.99,107.56 L176.60,107.10 L177.19,106.66 L177.76,106.23 L178.33,105.82 L178.90,105.42 L179.48,105.03 L180.09,104.65 L180.72,104.27 L181.40,103.90 L182.12,103.53 L182.89,103.17 L183.69,102.82 L184.51,102.48 L185.34,102.14 L186.17,101.81 L186.99,101.50 L187.80,101.20 L188.59,100.91 L189.38,100.64 L190.17,100.38 L190.95,100.13 L191.73,99.89 L192.52,99.66 L193.31,99.43 L194.10,99.20 L194.90,98.98 L195.69,98.75 L196.49,98.54 L197.29,98.33 L198.10,98.12 L198.90,97.93 L199.70,97.76 L200.50,97.60 L201.31,97.46 L202.12,97.34 L202.94,97.23 L203.75,97.13 L204.56,97.04 L205.36,96.96 L206.14,96.88 L206.90,96.80 L207.68,96.72 L208.49,96.64 L209.30,96.57 L210.10,96.50 L210.85,96.44 L211.51,96.38 L212.07,96.34 L212.50,96.30" fill="none" stroke="#222" stroke-width="0.5" stroke-linejoin="round" opacity="0.7"/>
<path d="M119.00,146.50 L120.31,146.48 L122.13,146.46 L124.31,146.44 L126.69,146.41 L129.10,146.37 L131.40,146.32 L133.42,146.27 L135.00,146.20 L136.14,146.12 L136.99,146.03 L137.62,145.93 L138.10,145.82 L138.51,145.71 L138.91,145.58 L139.38,145.45 L140.00,145.30 L140.74,145.16 L141.54,145.03 L142.37,144.89 L143.22,144.74 L144.06,144.57 L144.89,144.36 L145.67,144.11 L146.40,143.80 L147.07,143.43 L147.69,143.01 L148.28,142.55 L148.85,142.06 L149.40,141.53 L149.96,140.97 L150.52,140.39 L151.10,139.80 L151.70,139.19 L152.31,138.55 L152.93,137.89 L153.54,137.20 L154.15,136.49 L154.75,135.75 L155.34,134.99 L155.90,134.20 L156.44,133.37 L156.96,132.49 L157.46,131.58 L157.95,130.64 L158.44,129.70 L158.92,128.77 L159.41,127.87 L159.90,127.00 L160.40,126.16 L160.90,125.35 L161.40,124.54 L161.90,123.75 L162.40,122.97 L162.90,122.20 L163.40,121.45 L163.90,120.70 L164.40,119.96 L164.90,119.21 L165.40,118.48 L165.91,117.76 L166.41,117.05 L166.91,116.37 L167.40,115.72 L167.90,115.10 L168.39,114.52 L168.86,113.99 L169.33,113.48 L169.80,113.00 L170.28,112.53 L170.76,112.06 L171.27,111.59 L171.80,111.10 L172.36,110.59 L172.94,110.08 L173.53,109.56 L174.14,109.05 L174.76,108.54 L175.38,108.04 L175.99,107.56 L176.60,107.10 L177.19,106.66 L177.76,106.23 L178.33,105.82 L178.90,105.42 L179.48,105.03 L180.09,104.65 L180.72,104.27 L181.40,103.90 L182.12,103.53 L182.89,103.17 L183.69,102.82 L184.51,102.48 L185.34,102.14 L186.17,101.81 L186.99,101.50 L187.80,101.20 L188.59,100.91 L189.38,100.64 L190.17,100.38 L190.95,100.13 L191.73,99.89 L192.52,99.66 L193.31,99.43 L194.10,99.20 L194.90,98.98 L195.69,98.75 L196.49,98.54 L197.29,98.33 L198.10,98.12 L198.90,97.93 L199.70,97.76 L200.50,97.60 L201.31,97.46 L202.12,97.34 L202.94,97.23 L203.75,97.13 L204.56,97.04 L205.36,96.96 L206.14,96.88 L206.90,96.80 L207.68,96.72 L208.49,96.64 L209.30,96.57 L210.10,96.50 L210.85,96.44 L211.51,96.38 L212.07,96.34 L212.50,96.30" fill="none" stroke="#222" stroke-width="1.4" stroke-linecap="round" stroke-dasharray="0,3.1"/>
<circle cx="120.3" cy="145.2" r="1.6" fill="none" stroke="#777" stroke-width="0.6"/>
<circle cx="9.6" cy="146.6" r="1.4" fill="none" stroke="#777" stroke-width="0.6"/>
<line x1="1.40" y1="166.70" x2="9.20" y2="166.70" stroke="#000" stroke-width="0.9" />
<polygon points="3.8,166.7 5.3,165.39999999999998 6.8,166.7 5.3,168.0" fill="#000"/>
<text x="15.20" y="168.60" font-size="5.3" font-weight="bold" text-anchor="start" fill="#000" stroke="#000" stroke-width="0.08" >pl-wtCD20</text>
<line x1="50.70" y1="166.40" x2="56.40" y2="166.40" stroke="#555" stroke-width="0.9" />
<circle cx="54.55" cy="166.4" r="1.2" fill="#fff" stroke="#555" stroke-width="0.7"/>
<text x="62.80" y="168.40" font-size="5.8" font-weight="bold" text-anchor="start" fill="#000" stroke="#000" stroke-width="0.08" >Daudi</text>
<line x1="86.40" y1="166.30" x2="92.80" y2="166.30" stroke="#000" stroke-width="0.9" />
<rect x="88.5" y="165.20000000000002" width="2.2" height="2.2" fill="#000"/>
<text x="97.00" y="168.40" font-size="5.6" font-weight="bold" text-anchor="start" fill="#000" stroke="#000" stroke-width="0.08" >pl-&#916;CD20</text>
<line x1="131.70" y1="166.20" x2="139.70" y2="166.20" stroke="#999" stroke-width="0.9" />
<rect x="134.6" y="165.1" width="2.2" height="2.2" fill="#999"/>
<text x="145.00" y="169.10" font-size="5.8" font-weight="bold" text-anchor="start" fill="#000" stroke="#000" stroke-width="0.08" >H<tspan font-size="3.5" dy="1.2">2</tspan><tspan dy="-1.2">O</tspan></text>
<text x="231.10" y="11.10" font-size="14.0" font-weight="bold" text-anchor="start" fill="#000" stroke="#000" stroke-width="0.08" >B</text>
<line x1="278.80" y1="3.50" x2="278.80" y2="101.70" stroke="#000" stroke-width="0.8" />
<line x1="277.20" y1="101.40" x2="278.80" y2="101.40" stroke="#000" stroke-width="0.6" />
<text x="275.70" y="103.30" font-size="5.3" font-weight="bold" text-anchor="end" fill="#000" stroke="#000" stroke-width="0.08" >0.00%</text>
<line x1="277.20" y1="81.85" x2="278.80" y2="81.85" stroke="#000" stroke-width="0.6" />
<text x="275.70" y="83.75" font-size="5.3" font-weight="bold" text-anchor="end" fill="#000" stroke="#000" stroke-width="0.08" >5.00%</text>
<line x1="277.20" y1="62.30" x2="278.80" y2="62.30" stroke="#000" stroke-width="0.6" />
<text x="275.70" y="64.20" font-size="5.3" font-weight="bold" text-anchor="end" fill="#000" stroke="#000" stroke-width="0.08" >10.00%</text>
<line x1="277.20" y1="42.75" x2="278.80" y2="42.75" stroke="#000" stroke-width="0.6" />
<text x="275.70" y="44.65" font-size="5.3" font-weight="bold" text-anchor="end" fill="#000" stroke="#000" stroke-width="0.08" >15.00%</text>
<line x1="277.20" y1="23.20" x2="278.80" y2="23.20" stroke="#000" stroke-width="0.6" />
<text x="275.70" y="25.10" font-size="5.3" font-weight="bold" text-anchor="end" fill="#000" stroke="#000" stroke-width="0.08" >20.00%</text>
<line x1="277.20" y1="3.65" x2="278.80" y2="3.65" stroke="#000" stroke-width="0.6" />
<text x="275.70" y="5.55" font-size="5.3" font-weight="bold" text-anchor="end" fill="#000" stroke="#000" stroke-width="0.08" >25.00%</text>
<text x="0.00" y="0.00" font-size="5.4" font-weight="normal" text-anchor="middle" fill="#000" stroke="#000" stroke-width="0.08" transform="translate(236.4,56.5) rotate(-90)">% of &#916;CD20 transcripts</text>
<line x1="278.80" y1="101.40" x2="520.00" y2="101.40" stroke="#000" stroke-width="0.8" />
<line x1="292.74" y1="101.40" x2="292.74" y2="103.00" stroke="#000" stroke-width="0.6" />
<line x1="306.03" y1="101.40" x2="306.03" y2="103.00" stroke="#000" stroke-width="0.6" />
<line x1="319.32" y1="101.40" x2="319.32" y2="103.00" stroke="#000" stroke-width="0.6" />
<line x1="332.61" y1="101.40" x2="332.61" y2="103.00" stroke="#000" stroke-width="0.6" />
<line x1="345.90" y1="101.40" x2="345.90" y2="103.00" stroke="#000" stroke-width="0.6" />
<line x1="359.19" y1="101.40" x2="359.19" y2="103.00" stroke="#000" stroke-width="0.6" />
<line x1="372.48" y1="101.40" x2="372.48" y2="103.00" stroke="#000" stroke-width="0.6" />
<line x1="385.77" y1="101.40" x2="385.77" y2="103.00" stroke="#000" stroke-width="0.6" />
<line x1="399.06" y1="101.40" x2="399.06" y2="103.00" stroke="#000" stroke-width="0.6" />
<line x1="412.35" y1="101.40" x2="412.35" y2="103.00" stroke="#000" stroke-width="0.6" />
<line x1="425.64" y1="101.40" x2="425.64" y2="103.00" stroke="#000" stroke-width="0.6" />
<line x1="438.93" y1="101.40" x2="438.93" y2="103.00" stroke="#000" stroke-width="0.6" />
<line x1="452.22" y1="101.40" x2="452.22" y2="103.00" stroke="#000" stroke-width="0.6" />
<line x1="465.51" y1="101.40" x2="465.51" y2="103.00" stroke="#000" stroke-width="0.6" />
<line x1="478.80" y1="101.40" x2="478.80" y2="103.00" stroke="#000" stroke-width="0.6" />
<line x1="492.09" y1="101.40" x2="492.09" y2="103.00" stroke="#000" stroke-width="0.6" />
<line x1="505.38" y1="101.40" x2="505.38" y2="103.00" stroke="#000" stroke-width="0.6" />
<line x1="518.67" y1="101.40" x2="518.67" y2="103.00" stroke="#000" stroke-width="0.6" />
<defs>
<linearGradient id="gN" x1="0" y1="0" x2="0" y2="1"><stop offset="0" stop-color="#555"/><stop offset="1" stop-color="#fff"/></linearGradient>
<linearGradient id="gT" x1="0" y1="0" x2="1" y2="1"><stop offset="0" stop-color="#3a3a3a"/><stop offset="0.5" stop-color="#7a7a7a"/><stop offset="1" stop-color="#3a3a3a"/></linearGradient>
</defs>
<line x1="312.50" y1="72.70" x2="312.50" y2="90.06" stroke="#808080" stroke-width="1.0" />
<line x1="310.70" y1="73.20" x2="314.30" y2="73.20" stroke="#808080" stroke-width="1.0" />
<rect x="307.18" y="90.06" width="11.00" height="11.34" fill="url(#gN)" stroke="#222" stroke-width="0.6" />
<line x1="325.50" y1="15.90" x2="325.50" y2="46.66" stroke="#808080" stroke-width="1.0" />
<line x1="323.70" y1="16.40" x2="327.30" y2="16.40" stroke="#808080" stroke-width="1.0" />
<rect x="320.47" y="46.66" width="11.00" height="54.74" fill="url(#gN)" stroke="#222" stroke-width="0.6" />
<line x1="339.50" y1="78.80" x2="339.50" y2="87.32" stroke="#808080" stroke-width="1.0" />
<line x1="337.70" y1="79.30" x2="341.30" y2="79.30" stroke="#808080" stroke-width="1.0" />
<rect x="333.76" y="87.32" width="11.00" height="14.08" fill="url(#gN)" stroke="#222" stroke-width="0.6" />
<line x1="379.50" y1="67.30" x2="379.50" y2="87.32" stroke="#808080" stroke-width="1.0" />
<line x1="377.70" y1="67.80" x2="381.30" y2="67.80" stroke="#808080" stroke-width="1.0" />
<rect x="373.63" y="87.32" width="11.00" height="14.08" fill="url(#gT)" stroke="#222" stroke-width="0.6" />
<rect x="386.92" y="101.01" width="11.00" height="0.39" fill="url(#gT)" stroke="#222" stroke-width="0.6" />
<line x1="405.50" y1="65.20" x2="405.50" y2="86.15" stroke="#808080" stroke-width="1.0" />
<line x1="403.70" y1="65.70" x2="407.30" y2="65.70" stroke="#808080" stroke-width="1.0" />
<rect x="400.21" y="86.15" width="11.00" height="15.25" fill="url(#gT)" stroke="#222" stroke-width="0.6" />
<line x1="419.50" y1="72.10" x2="419.50" y2="90.06" stroke="#808080" stroke-width="1.0" />
<line x1="417.70" y1="72.60" x2="421.30" y2="72.60" stroke="#808080" stroke-width="1.0" />
<rect x="413.50" y="90.06" width="11.00" height="11.34" fill="url(#gT)" stroke="#222" stroke-width="0.6" />
<line x1="432.50" y1="80.20" x2="432.50" y2="88.89" stroke="#808080" stroke-width="1.0" />
<line x1="430.70" y1="80.70" x2="434.30" y2="80.70" stroke="#808080" stroke-width="1.0" />
<rect x="426.79" y="88.89" width="11.00" height="12.51" fill="url(#gT)" stroke="#222" stroke-width="0.6" />
<line x1="458.50" y1="87.10" x2="458.50" y2="96.04" stroke="#808080" stroke-width="1.0" />
<line x1="456.70" y1="87.60" x2="460.30" y2="87.60" stroke="#808080" stroke-width="1.0" />
<rect x="453.37" y="96.04" width="11.00" height="5.36" fill="url(#gT)" stroke="#222" stroke-width="0.6" />
<line x1="472.50" y1="94.60" x2="472.50" y2="98.23" stroke="#808080" stroke-width="1.0" />
<line x1="470.70" y1="95.10" x2="474.30" y2="95.10" stroke="#808080" stroke-width="1.0" />
<rect x="466.66" y="98.23" width="11.00" height="3.17" fill="url(#gT)" stroke="#222" stroke-width="0.6" />
<line x1="485.50" y1="83.30" x2="485.50" y2="90.10" stroke="#808080" stroke-width="1.0" />
<line x1="483.70" y1="83.80" x2="487.30" y2="83.80" stroke="#808080" stroke-width="1.0" />
<rect x="479.95" y="90.10" width="11.00" height="11.30" fill="url(#gT)" stroke="#222" stroke-width="0.6" />
<line x1="498.50" y1="80.20" x2="498.50" y2="89.59" stroke="#808080" stroke-width="1.0" />
<line x1="496.70" y1="80.70" x2="500.30" y2="80.70" stroke="#808080" stroke-width="1.0" />
<rect x="493.24" y="89.59" width="11.00" height="11.81" fill="url(#gT)" stroke="#222" stroke-width="0.6" />
<line x1="512.50" y1="23.60" x2="512.50" y2="46.82" stroke="#808080" stroke-width="1.0" />
<line x1="510.70" y1="24.10" x2="514.30" y2="24.10" stroke="#808080" stroke-width="1.0" />
<rect x="506.53" y="46.82" width="11.00" height="54.58" fill="url(#gT)" stroke="#222" stroke-width="0.6" />
<text x="286.40" y="94.45" font-size="4.8" font-weight="bold" text-anchor="middle" fill="#000" stroke="#000" stroke-width="0.08" >0.00%</text>
<text x="299.69" y="94.45" font-size="4.8" font-weight="bold" text-anchor="middle" fill="#000" stroke="#000" stroke-width="0.08" >0.00%</text>
<text x="312.98" y="70.95" font-size="4.8" font-weight="bold" text-anchor="middle" fill="#000" stroke="#000" stroke-width="0.08" >2.90%</text>
<text x="326.27" y="9.25" font-size="4.8" font-weight="bold" text-anchor="middle" fill="#000" stroke="#000" stroke-width="0.08" >14.00%</text>
<text x="339.56" y="74.45" font-size="4.8" font-weight="bold" text-anchor="middle" fill="#000" stroke="#000" stroke-width="0.08" >3.60%</text>
<text x="352.85" y="95.35" font-size="4.8" font-weight="bold" text-anchor="middle" fill="#000" stroke="#000" stroke-width="0.08" >0.00%</text>
<text x="379.43" y="62.95" font-size="4.8" font-weight="bold" text-anchor="middle" fill="#000" stroke="#000" stroke-width="0.08" >3.60%</text>
<text x="392.72" y="91.55" font-size="4.8" font-weight="bold" text-anchor="middle" fill="#000" stroke="#000" stroke-width="0.08" >0.10%</text>
<text x="406.01" y="59.85" font-size="4.8" font-weight="bold" text-anchor="middle" fill="#000" stroke="#000" stroke-width="0.08" >3.90%</text>
<text x="419.30" y="68.15" font-size="4.8" font-weight="bold" text-anchor="middle" fill="#000" stroke="#000" stroke-width="0.08" >2.90%</text>
<text x="432.59" y="74.75" font-size="4.8" font-weight="bold" text-anchor="middle" fill="#000" stroke="#000" stroke-width="0.08" >3.20%</text>
<text x="459.17" y="81.95" font-size="4.8" font-weight="bold" text-anchor="middle" fill="#000" stroke="#000" stroke-width="0.08" >1.37%</text>
<text x="472.46" y="88.65" font-size="4.8" font-weight="bold" text-anchor="middle" fill="#000" stroke="#000" stroke-width="0.08" >0.81%</text>
<text x="485.75" y="77.35" font-size="4.8" font-weight="bold" text-anchor="middle" fill="#000" stroke="#000" stroke-width="0.08" >2.89%</text>
<text x="499.04" y="72.95" font-size="4.8" font-weight="bold" text-anchor="middle" fill="#000" stroke="#000" stroke-width="0.08" >3.02%</text>
<text x="512.33" y="17.05" font-size="4.8" font-weight="bold" text-anchor="middle" fill="#000" stroke="#000" stroke-width="0.08" >13.96%</text>
<text x="0.00" y="0.00" font-size="6.0" font-weight="normal" text-anchor="end" fill="#000" stroke="#000" stroke-width="0.2" transform="translate(283.80,111.30) rotate(-45)">PBMC (5)</text>
<text x="0.00" y="0.00" font-size="6.0" font-weight="normal" text-anchor="end" fill="#000" stroke="#000" stroke-width="0.2" transform="translate(297.09,111.30) rotate(-45)">BMMC (5)</text>
<text x="0.00" y="0.00" font-size="6.0" font-weight="normal" text-anchor="end" fill="#000" stroke="#000" stroke-width="0.2" transform="translate(310.38,111.30) rotate(-45)">B-EBV transformed B cell lines (6)</text>
<text x="0.00" y="0.00" font-size="6.0" font-weight="normal" text-anchor="end" fill="#000" stroke="#000" stroke-width="0.2" transform="translate(323.67,111.30) rotate(-45)">In vitro B-Blasts (5)</text>
<text x="0.00" y="0.00" font-size="6.0" font-weight="normal" text-anchor="end" fill="#000" stroke="#000" stroke-width="0.2" transform="translate(336.96,111.30) rotate(-45)">CD19+ cells (tonsillectomies) (7)</text>
<text x="0.00" y="0.00" font-size="6.0" font-weight="normal" text-anchor="end" fill="#000" stroke="#000" stroke-width="0.2" transform="translate(350.25,111.30) rotate(-45)">Plasmocytes CD138+ (16)</text>
<text x="0.00" y="0.00" font-size="6.0" font-weight="normal" text-anchor="end" fill="#000" stroke="#000" stroke-width="0.2" transform="translate(376.83,111.30) rotate(-45)">B-ALL (27)</text>
<text x="0.00" y="0.00" font-size="6.0" font-weight="normal" text-anchor="end" fill="#000" stroke="#000" stroke-width="0.2" transform="translate(390.12,111.30) rotate(-45)">B-CLL (8)</text>
<text x="0.00" y="0.00" font-size="6.0" font-weight="normal" text-anchor="end" fill="#000" stroke="#000" stroke-width="0.2" transform="translate(403.41,111.30) rotate(-45)">FL (5)</text>
<text x="0.00" y="0.00" font-size="6.0" font-weight="normal" text-anchor="end" fill="#000" stroke="#000" stroke-width="0.2" transform="translate(416.70,111.30) rotate(-45)">MCL (6)</text>
<text x="0.00" y="0.00" font-size="6.0" font-weight="normal" text-anchor="end" fill="#000" stroke="#000" stroke-width="0.2" transform="translate(429.99,111.30) rotate(-45)">DLBCL (5)</text>
<text x="0.00" y="0.00" font-size="6.0" font-weight="normal" text-anchor="end" fill="#000" stroke="#000" stroke-width="0.2" transform="translate(456.57,111.30) rotate(-45)">MZL (SP) (5)</text>
<text x="0.00" y="0.00" font-size="6.0" font-weight="normal" text-anchor="end" fill="#000" stroke="#000" stroke-width="0.2" transform="translate(469.86,111.30) rotate(-45)">B-CLL (LN or SP) (5)</text>
<text x="0.00" y="0.00" font-size="6.0" font-weight="normal" text-anchor="end" fill="#000" stroke="#000" stroke-width="0.2" transform="translate(483.15,111.30) rotate(-45)">FL (LN) (3)</text>
<text x="0.00" y="0.00" font-size="6.0" font-weight="normal" text-anchor="end" fill="#000" stroke="#000" stroke-width="0.2" transform="translate(496.44,111.30) rotate(-45)">MCL (LN or SP) (5)</text>
<text x="0.00" y="0.00" font-size="6.0" font-weight="normal" text-anchor="end" fill="#000" stroke="#000" stroke-width="0.2" transform="translate(509.73,111.30) rotate(-45)">DLBCL (LN) (3)</text>
<line x1="361.00" y1="146.90" x2="419.50" y2="146.90" stroke="#000" stroke-width="1.2" />
<text x="387.70" y="153.00" font-size="5.4" font-weight="bold" text-anchor="middle" fill="#000" stroke="#000" stroke-width="0.08" >PBMC or BM</text>
<line x1="422.00" y1="153.80" x2="500.40" y2="153.80" stroke="#000" stroke-width="1.2" />
<text x="465.20" y="161.10" font-size="5.4" font-weight="bold" text-anchor="middle" fill="#000" stroke="#000" stroke-width="0.08" >Tumors (LN or SP)</text>
<line x1="360.00" y1="165.00" x2="500.40" y2="165.00" stroke="#000" stroke-width="1.4" />
<text x="429.60" y="172.00" font-size="5.35" font-weight="bold" text-anchor="middle" fill="#000" stroke="#000" stroke-width="0.08" >Hematologic B-cells malignancies</text>
<text x="27.30" y="210.70" font-size="14.0" font-weight="bold" text-anchor="start" fill="#000" stroke="#000" stroke-width="0.08" >C</text>
<line x1="70.00" y1="214.80" x2="70.00" y2="364.00" stroke="#000" stroke-width="0.8" />
<line x1="68.30" y1="324.00" x2="70.00" y2="324.00" stroke="#000" stroke-width="0.6" />
<text x="65.80" y="326.00" font-size="5.8" font-weight="bold" text-anchor="end" fill="#000" stroke="#000" stroke-width="0.08" >0.00%</text>
<line x1="68.30" y1="305.80" x2="70.00" y2="305.80" stroke="#000" stroke-width="0.6" />
<text x="65.80" y="307.80" font-size="5.8" font-weight="bold" text-anchor="end" fill="#000" stroke="#000" stroke-width="0.08" >5.00%</text>
<line x1="68.30" y1="287.60" x2="70.00" y2="287.60" stroke="#000" stroke-width="0.6" />
<text x="65.80" y="289.60" font-size="5.8" font-weight="bold" text-anchor="end" fill="#000" stroke="#000" stroke-width="0.08" >10.00%</text>
<line x1="68.30" y1="269.40" x2="70.00" y2="269.40" stroke="#000" stroke-width="0.6" />
<text x="65.80" y="271.40" font-size="5.8" font-weight="bold" text-anchor="end" fill="#000" stroke="#000" stroke-width="0.08" >15.00%</text>
<line x1="68.30" y1="251.20" x2="70.00" y2="251.20" stroke="#000" stroke-width="0.6" />
<text x="65.80" y="253.20" font-size="5.8" font-weight="bold" text-anchor="end" fill="#000" stroke="#000" stroke-width="0.08" >20.00%</text>
<line x1="68.30" y1="233.00" x2="70.00" y2="233.00" stroke="#000" stroke-width="0.6" />
<text x="65.80" y="235.00" font-size="5.8" font-weight="bold" text-anchor="end" fill="#000" stroke="#000" stroke-width="0.08" >25.00%</text>
<line x1="68.30" y1="214.80" x2="70.00" y2="214.80" stroke="#000" stroke-width="0.6" />
<text x="65.80" y="216.80" font-size="5.8" font-weight="bold" text-anchor="end" fill="#000" stroke="#000" stroke-width="0.08" >30.00%</text>
<text x="0.00" y="0.00" font-size="7.4" font-weight="bold" text-anchor="middle" fill="#000" stroke="#000" stroke-width="0.08" transform="translate(39.7,269.2) rotate(-90)">% of &#916;CD20 transcripts</text>
<line x1="70.00" y1="324.00" x2="239.50" y2="324.00" stroke="#000" stroke-width="0.8" />
<line x1="98.20" y1="324.00" x2="98.20" y2="341.00" stroke="#000" stroke-width="0.7" />
<line x1="126.50" y1="324.00" x2="126.50" y2="364.00" stroke="#000" stroke-width="0.7" />
<line x1="155.00" y1="324.00" x2="155.00" y2="341.00" stroke="#000" stroke-width="0.7" />
<line x1="183.50" y1="324.00" x2="183.50" y2="364.00" stroke="#000" stroke-width="0.7" />
<line x1="211.50" y1="324.00" x2="211.50" y2="341.00" stroke="#000" stroke-width="0.7" />
<line x1="239.50" y1="324.00" x2="239.50" y2="364.00" stroke="#000" stroke-width="0.7" />
<line x1="84.20" y1="290.80" x2="84.20" y2="293.64" stroke="#333" stroke-width="0.7" />
<line x1="82.20" y1="290.80" x2="86.20" y2="290.80" stroke="#333" stroke-width="0.7" />
<rect x="74.20" y="293.64" width="20.00" height="30.36" fill="#fff" stroke="#222" stroke-width="0.7" />
<line x1="112.40" y1="300.30" x2="112.40" y2="302.38" stroke="#333" stroke-width="0.7" />
<line x1="110.40" y1="300.30" x2="114.40" y2="300.30" stroke="#333" stroke-width="0.7" />
<rect x="102.40" y="302.38" width="20.00" height="21.62" fill="#838383" stroke="#222" stroke-width="0.7" />
<rect x="130.70" y="320.32" width="20.00" height="3.68" fill="#fff" stroke="#222" stroke-width="0.7" />
<line x1="169.20" y1="229.00" x2="169.20" y2="237.11" stroke="#333" stroke-width="0.7" />
<line x1="167.20" y1="229.00" x2="171.20" y2="229.00" stroke="#333" stroke-width="0.7" />
<rect x="159.20" y="237.11" width="20.00" height="86.89" fill="#838383" stroke="#222" stroke-width="0.7" />
<line x1="197.70" y1="305.00" x2="197.70" y2="306.82" stroke="#333" stroke-width="0.7" />
<line x1="195.70" y1="305.00" x2="199.70" y2="305.00" stroke="#333" stroke-width="0.7" />
<rect x="187.70" y="306.82" width="20.00" height="17.18" fill="#fff" stroke="#222" stroke-width="0.7" />
<line x1="225.70" y1="258.30" x2="225.70" y2="263.98" stroke="#333" stroke-width="0.7" />
<line x1="223.70" y1="258.30" x2="227.70" y2="258.30" stroke="#333" stroke-width="0.7" />
<rect x="215.70" y="263.98" width="20.00" height="60.02" fill="#838383" stroke="#222" stroke-width="0.7" />
<text x="87.40" y="282.30" font-size="6.1" font-weight="bold" text-anchor="middle" fill="#000" stroke="#000" stroke-width="0.08" >8.34%</text>
<text x="114.70" y="291.00" font-size="6.1" font-weight="bold" text-anchor="middle" fill="#000" stroke="#000" stroke-width="0.08" >5.94%</text>
<text x="142.50" y="305.60" font-size="6.1" font-weight="bold" text-anchor="middle" fill="#000" stroke="#000" stroke-width="0.08" >1.01%</text>
<text x="170.90" y="226.80" font-size="6.1" font-weight="bold" text-anchor="middle" fill="#000" stroke="#000" stroke-width="0.08" >23.87%</text>
<text x="197.90" y="295.60" font-size="6.1" font-weight="bold" text-anchor="middle" fill="#000" stroke="#000" stroke-width="0.08" >4.72%</text>
<text x="227.20" y="250.60" font-size="6.1" font-weight="bold" text-anchor="middle" fill="#000" stroke="#000" stroke-width="0.08" >16.49%</text>
<path d="M85.70,215.5 L85.70,212.2 Q85.70,210.8 87.10,210.8 L105.10,210.8 Q106.50,210.8 106.50,212.2 L106.50,215.5" fill="none" stroke="#000" stroke-width="1.1"/>
<text x="96.10" y="208.80" font-size="5.9" font-weight="bold" text-anchor="middle" fill="#000" stroke="#000" stroke-width="0.08" >x 0.71</text>
<path d="M141.20,215.5 L141.20,212.2 Q141.20,210.8 142.60,210.8 L161.40,210.8 Q162.80,210.8 162.80,212.2 L162.80,215.5" fill="none" stroke="#000" stroke-width="1.1"/>
<text x="152.00" y="208.40" font-size="5.9" font-weight="bold" text-anchor="middle" fill="#000" stroke="#000" stroke-width="0.08" >x 23.64</text>
<path d="M202.60,215.5 L202.60,212.2 Q202.60,210.8 204.00,210.8 L222.60,210.8 Q224.00,210.8 224.00,212.2 L224.00,215.5" fill="none" stroke="#000" stroke-width="1.1"/>
<text x="213.30" y="207.60" font-size="5.9" font-weight="bold" text-anchor="middle" fill="#000" stroke="#000" stroke-width="0.08" >x 3.49</text>
<text x="0.00" y="0.00" font-size="6.2" font-weight="normal" text-anchor="middle" fill="#000" stroke="#000" stroke-width="0.14" transform="translate(81.93,335.90) rotate(-90)">before</text>
<text x="0.00" y="0.00" font-size="6.2" font-weight="normal" text-anchor="middle" fill="#000" stroke="#000" stroke-width="0.14" transform="translate(89.63,334.50) rotate(-90)">RTX</text>
<text x="0.00" y="0.00" font-size="6.2" font-weight="normal" text-anchor="middle" fill="#000" stroke="#000" stroke-width="0.14" transform="translate(110.73,335.30) rotate(-90)">after</text>
<text x="0.00" y="0.00" font-size="6.2" font-weight="normal" text-anchor="middle" fill="#000" stroke="#000" stroke-width="0.14" transform="translate(118.43,334.60) rotate(-90)">RTX</text>
<text x="0.00" y="0.00" font-size="6.2" font-weight="normal" text-anchor="middle" fill="#000" stroke="#000" stroke-width="0.14" transform="translate(138.43,335.90) rotate(-90)">before</text>
<text x="0.00" y="0.00" font-size="6.2" font-weight="normal" text-anchor="middle" fill="#000" stroke="#000" stroke-width="0.14" transform="translate(146.13,334.50) rotate(-90)">RTX</text>
<text x="0.00" y="0.00" font-size="6.2" font-weight="normal" text-anchor="middle" fill="#000" stroke="#000" stroke-width="0.14" transform="translate(167.23,335.30) rotate(-90)">after</text>
<text x="0.00" y="0.00" font-size="6.2" font-weight="normal" text-anchor="middle" fill="#000" stroke="#000" stroke-width="0.14" transform="translate(174.93,334.60) rotate(-90)">RTX</text>
<text x="0.00" y="0.00" font-size="6.2" font-weight="normal" text-anchor="middle" fill="#000" stroke="#000" stroke-width="0.14" transform="translate(195.43,335.90) rotate(-90)">before</text>
<text x="0.00" y="0.00" font-size="6.2" font-weight="normal" text-anchor="middle" fill="#000" stroke="#000" stroke-width="0.14" transform="translate(203.13,334.50) rotate(-90)">RTX</text>
<text x="0.00" y="0.00" font-size="6.2" font-weight="normal" text-anchor="middle" fill="#000" stroke="#000" stroke-width="0.14" transform="translate(224.23,335.30) rotate(-90)">after</text>
<text x="0.00" y="0.00" font-size="6.2" font-weight="normal" text-anchor="middle" fill="#000" stroke="#000" stroke-width="0.14" transform="translate(231.93,334.60) rotate(-90)">RTX</text>
<text x="98.30" y="353.70" font-size="6.0" font-weight="normal" text-anchor="middle" fill="#000" stroke="#000" stroke-width="0.08" >FL (LN) Non-</text>
<text x="98.30" y="361.40" font-size="6.0" font-weight="normal" text-anchor="middle" fill="#000" stroke="#000" stroke-width="0.08" >responder</text>
<text x="155.00" y="353.70" font-size="6.0" font-weight="normal" text-anchor="middle" fill="#000" stroke="#000" stroke-width="0.08" >FL (pleural)</text>
<text x="155.00" y="361.40" font-size="6.0" font-weight="normal" text-anchor="middle" fill="#000" stroke="#000" stroke-width="0.08" >Replase&lt;12months</text>
<text x="211.80" y="353.70" font-size="6.0" font-weight="normal" text-anchor="middle" fill="#000" stroke="#000" stroke-width="0.08" >FL (LN)</text>
<text x="211.80" y="361.40" font-size="6.0" font-weight="normal" text-anchor="middle" fill="#000" stroke="#000" stroke-width="0.08" >Replase&gt;12months</text>
<line x1="283.80" y1="215.50" x2="283.80" y2="364.00" stroke="#000" stroke-width="0.8" />
<line x1="282.10" y1="323.70" x2="283.80" y2="323.70" stroke="#000" stroke-width="0.6" />
<text x="278.60" y="325.70" font-size="5.8" font-weight="bold" text-anchor="end" fill="#000" stroke="#000" stroke-width="0.08" >0.00%</text>
<line x1="282.10" y1="302.15" x2="283.80" y2="302.15" stroke="#000" stroke-width="0.6" />
<text x="278.60" y="304.15" font-size="5.8" font-weight="bold" text-anchor="end" fill="#000" stroke="#000" stroke-width="0.08" >0.50%</text>
<line x1="282.10" y1="280.60" x2="283.80" y2="280.60" stroke="#000" stroke-width="0.6" />
<text x="278.60" y="282.60" font-size="5.8" font-weight="bold" text-anchor="end" fill="#000" stroke="#000" stroke-width="0.08" >1.00%</text>
<line x1="282.10" y1="259.05" x2="283.80" y2="259.05" stroke="#000" stroke-width="0.6" />
<text x="278.60" y="261.05" font-size="5.8" font-weight="bold" text-anchor="end" fill="#000" stroke="#000" stroke-width="0.08" >1.50%</text>
<line x1="282.10" y1="237.50" x2="283.80" y2="237.50" stroke="#000" stroke-width="0.6" />
<text x="278.60" y="239.50" font-size="5.8" font-weight="bold" text-anchor="end" fill="#000" stroke="#000" stroke-width="0.08" >2.00%</text>
<line x1="282.10" y1="215.95" x2="283.80" y2="215.95" stroke="#000" stroke-width="0.6" />
<text x="278.60" y="217.95" font-size="5.8" font-weight="bold" text-anchor="end" fill="#000" stroke="#000" stroke-width="0.08" >2.50%</text>
<line x1="283.80" y1="323.70" x2="452.00" y2="323.70" stroke="#000" stroke-width="0.8" />
<line x1="312.00" y1="323.70" x2="312.00" y2="350.00" stroke="#000" stroke-width="0.7" />
<line x1="340.00" y1="323.70" x2="340.00" y2="350.00" stroke="#000" stroke-width="0.7" />
<line x1="368.00" y1="323.70" x2="368.00" y2="350.00" stroke="#000" stroke-width="0.7" />
<line x1="396.00" y1="323.70" x2="396.00" y2="350.00" stroke="#000" stroke-width="0.7" />
<line x1="424.00" y1="323.70" x2="424.00" y2="350.00" stroke="#000" stroke-width="0.7" />
<line x1="452.00" y1="323.70" x2="452.00" y2="364.00" stroke="#000" stroke-width="0.7" />
<line x1="298.00" y1="311.80" x2="298.00" y2="312.93" stroke="#333" stroke-width="0.7" />
<line x1="296.00" y1="311.80" x2="300.00" y2="311.80" stroke="#333" stroke-width="0.7" />
<rect x="288.00" y="312.93" width="20.00" height="10.78" fill="#fff" stroke="#222" stroke-width="0.7" />
<line x1="326.20" y1="285.20" x2="326.20" y2="288.79" stroke="#333" stroke-width="0.7" />
<line x1="324.20" y1="285.20" x2="328.20" y2="285.20" stroke="#333" stroke-width="0.7" />
<rect x="316.20" y="288.79" width="20.00" height="34.91" fill="#838383" stroke="#222" stroke-width="0.7" />
<line x1="354.20" y1="238.70" x2="354.20" y2="247.41" stroke="#333" stroke-width="0.7" />
<line x1="352.20" y1="238.70" x2="356.20" y2="238.70" stroke="#333" stroke-width="0.7" />
<rect x="344.20" y="247.41" width="20.00" height="76.29" fill="#fff" stroke="#222" stroke-width="0.7" />
<line x1="382.20" y1="227.70" x2="382.20" y2="236.64" stroke="#333" stroke-width="0.7" />
<line x1="380.20" y1="227.70" x2="384.20" y2="227.70" stroke="#333" stroke-width="0.7" />
<rect x="372.20" y="236.64" width="20.00" height="87.06" fill="#838383" stroke="#222" stroke-width="0.7" />
<rect x="400.20" y="321.55" width="20.00" height="2.16" fill="#fff" stroke="#222" stroke-width="0.7" />
<line x1="438.20" y1="302.50" x2="438.20" y2="303.44" stroke="#333" stroke-width="0.7" />
<line x1="436.20" y1="302.50" x2="440.20" y2="302.50" stroke="#333" stroke-width="0.7" />
<rect x="428.20" y="303.44" width="20.00" height="20.26" fill="#838383" stroke="#222" stroke-width="0.7" />
<text x="301.00" y="301.30" font-size="6.1" font-weight="bold" text-anchor="middle" fill="#000" stroke="#000" stroke-width="0.08" >0.25%</text>
<text x="327.70" y="276.10" font-size="6.1" font-weight="bold" text-anchor="middle" fill="#000" stroke="#000" stroke-width="0.08" >0.81%</text>
<text x="355.30" y="231.10" font-size="6.1" font-weight="bold" text-anchor="middle" fill="#000" stroke="#000" stroke-width="0.08" >1.77%</text>
<text x="383.70" y="225.40" font-size="6.1" font-weight="bold" text-anchor="middle" fill="#000" stroke="#000" stroke-width="0.08" >2.02%</text>
<text x="410.80" y="311.00" font-size="6.1" font-weight="bold" text-anchor="middle" fill="#000" stroke="#000" stroke-width="0.08" >0.05%</text>
<text x="439.70" y="290.30" font-size="6.1" font-weight="bold" text-anchor="middle" fill="#000" stroke="#000" stroke-width="0.08" >0.47%</text>
<path d="M299.80,215.5 L299.80,212.2 Q299.80,210.8 301.20,210.8 L320.40,210.8 Q321.80,210.8 321.80,212.2 L321.80,215.5" fill="none" stroke="#000" stroke-width="1.1"/>
<text x="310.80" y="208.40" font-size="5.9" font-weight="bold" text-anchor="middle" fill="#000" stroke="#000" stroke-width="0.08" >x 3.26</text>
<path d="M357.50,215.5 L357.50,212.2 Q357.50,210.8 358.90,210.8 L377.20,210.8 Q378.60,210.8 378.60,212.2 L378.60,215.5" fill="none" stroke="#000" stroke-width="1.1"/>
<text x="368.05" y="208.20" font-size="5.9" font-weight="bold" text-anchor="middle" fill="#000" stroke="#000" stroke-width="0.08" >x 1.14</text>
<path d="M410.80,215.5 L410.80,212.2 Q410.80,210.8 412.20,210.8 L431.30,210.8 Q432.70,210.8 432.70,212.2 L432.70,215.5" fill="none" stroke="#000" stroke-width="1.1"/>
<text x="421.75" y="208.40" font-size="5.9" font-weight="bold" text-anchor="middle" fill="#000" stroke="#000" stroke-width="0.08" >x 9.26</text>
<text x="0.00" y="0.00" font-size="6.5" font-weight="normal" text-anchor="middle" fill="#000" stroke="#000" stroke-width="0.14" transform="translate(299.64,343.20) rotate(-90)">before RTX</text>
<text x="0.00" y="0.00" font-size="6.2" font-weight="normal" text-anchor="middle" fill="#000" stroke="#000" stroke-width="0.14" transform="translate(322.63,335.00) rotate(-90)">after</text>
<text x="0.00" y="0.00" font-size="6.2" font-weight="normal" text-anchor="middle" fill="#000" stroke="#000" stroke-width="0.14" transform="translate(331.63,334.70) rotate(-90)">RTX</text>
<text x="0.00" y="0.00" font-size="6.5" font-weight="normal" text-anchor="middle" fill="#000" stroke="#000" stroke-width="0.14" transform="translate(355.84,343.20) rotate(-90)">before RTX</text>
<text x="0.00" y="0.00" font-size="6.2" font-weight="normal" text-anchor="middle" fill="#000" stroke="#000" stroke-width="0.14" transform="translate(378.83,335.00) rotate(-90)">after</text>
<text x="0.00" y="0.00" font-size="6.2" font-weight="normal" text-anchor="middle" fill="#000" stroke="#000" stroke-width="0.14" transform="translate(387.83,334.70) rotate(-90)">RTX</text>
<text x="0.00" y="0.00" font-size="6.5" font-weight="normal" text-anchor="middle" fill="#000" stroke="#000" stroke-width="0.14" transform="translate(411.84,343.20) rotate(-90)">before RTX</text>
<text x="0.00" y="0.00" font-size="6.2" font-weight="normal" text-anchor="middle" fill="#000" stroke="#000" stroke-width="0.14" transform="translate(434.83,335.00) rotate(-90)">after</text>
<text x="0.00" y="0.00" font-size="6.2" font-weight="normal" text-anchor="middle" fill="#000" stroke="#000" stroke-width="0.14" transform="translate(443.83,334.70) rotate(-90)">RTX</text>
<text x="371.50" y="362.40" font-size="6.3" font-weight="normal" text-anchor="middle" fill="#000" stroke="#000" stroke-width="0.08" >MCL (PB)</text>
</svg></body></html>
